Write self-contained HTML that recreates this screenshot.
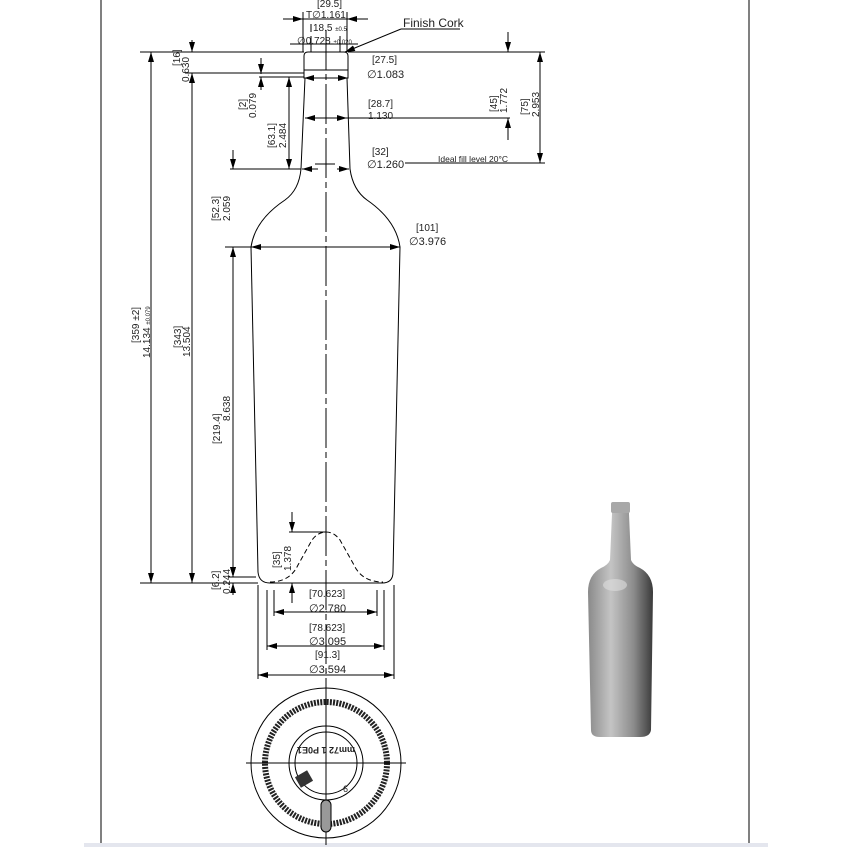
<!DOCTYPE html>
<html><head><meta charset="utf-8"><style>
html,body{margin:0;padding:0;background:#fff}
svg{display:block}
text{font-family:"Liberation Sans",sans-serif;fill:#222}
</style></head><body>
<svg width="847" height="847" viewBox="0 0 847 847" xmlns="http://www.w3.org/2000/svg">
<defs>
<marker id="a" viewBox="0 0 10 6" refX="10" refY="3" markerWidth="10" markerHeight="6" orient="auto-start-reverse" markerUnits="userSpaceOnUse"><path d="M0,0L10,3L0,6z" fill="#000"/></marker>
<linearGradient id="g" x1="0" x2="1"><stop offset="0" stop-color="#8a8a8a"/><stop offset="0.35" stop-color="#c4c4c4"/><stop offset="0.7" stop-color="#8c8c8c"/><stop offset="1" stop-color="#3a3a3a"/></linearGradient>
</defs>
<rect width="847" height="847" fill="#fff"/>
<line x1="101" y1="0" x2="101" y2="845" stroke="#000" stroke-width="1"/>
<line x1="749" y1="0" x2="749" y2="845" stroke="#000" stroke-width="1"/>
<rect x="84" y="843" width="684" height="4" fill="#e4e6ee"/>

<g stroke="#000" stroke-width="1" fill="none">
<line x1="326" y1="30" x2="326" y2="845" stroke-dasharray="40,4,6,4"/>
<path d="M304,56 Q304,52 308,52 L344,52 Q348,52 348,56 L348,78 L304,78 Z"/>
<line x1="304" y1="70" x2="348" y2="70"/>
<path d="M305,78 L301,169 Q299,190 285,200 Q255,220 251,247 L258,572 Q259,583 270,583 L382,583 Q393,583 393,572 L400,247 Q396,220 367,200 Q353,190 350,169 L347,78"/>
<path d="M270,582 Q290,582 298,565 L312,540 Q318,532 326,532 Q334,532 340,540 L354,565 Q362,582 383,582" stroke-dasharray="5,3"/>
<line x1="140" y1="52" x2="304" y2="52"/>
<line x1="348" y1="52" x2="545" y2="52"/>
<line x1="185" y1="73" x2="304" y2="73"/>
<line x1="230" y1="169" x2="301" y2="169"/>
<line x1="225" y1="247" x2="251" y2="247"/>
<line x1="140" y1="583" x2="258" y2="583"/>
<line x1="228" y1="577" x2="256" y2="577"/>
<line x1="151" y1="52" x2="151" y2="583" marker-start="url(#a)" marker-end="url(#a)"/>
<line x1="192" y1="73" x2="192" y2="583" marker-start="url(#a)" marker-end="url(#a)"/>
<line x1="192" y1="40" x2="192" y2="52" marker-end="url(#a)"/>
<line x1="233" y1="247" x2="233" y2="577" marker-start="url(#a)" marker-end="url(#a)"/>
<line x1="233" y1="150" x2="233" y2="169" marker-end="url(#a)"/>
<line x1="233" y1="560" x2="233" y2="577" marker-end="url(#a)"/>
<line x1="233" y1="595" x2="233" y2="583" marker-end="url(#a)"/>
<line x1="261" y1="58" x2="261" y2="74" marker-end="url(#a)"/>
<line x1="261" y1="90" x2="261" y2="77" marker-end="url(#a)"/>
<line x1="289" y1="77" x2="289" y2="169" marker-start="url(#a)" marker-end="url(#a)"/>
<line x1="259" y1="77" x2="304" y2="77"/>
<line x1="305" y1="118" x2="510" y2="118"/>
<line x1="508" y1="32" x2="508" y2="52" marker-end="url(#a)"/>
<line x1="508" y1="140" x2="508" y2="118" marker-end="url(#a)"/>
<line x1="540" y1="52" x2="540" y2="163" marker-start="url(#a)" marker-end="url(#a)"/>
<line x1="405" y1="163" x2="545" y2="163"/>
<line x1="315" y1="164" x2="335" y2="164"/>
<line x1="304" y1="78" x2="325" y2="78" marker-start="url(#a)"/>
<line x1="327" y1="78" x2="348" y2="78" marker-end="url(#a)"/>
<line x1="305" y1="118" x2="322" y2="118" marker-start="url(#a)"/>
<line x1="330" y1="118" x2="347" y2="118" marker-end="url(#a)"/>
<line x1="302" y1="169" x2="318" y2="169" marker-start="url(#a)"/>
<line x1="337" y1="169" x2="349" y2="169" marker-end="url(#a)"/>
<line x1="251" y1="247" x2="400" y2="247" marker-start="url(#a)" marker-end="url(#a)"/>
<line x1="303" y1="12" x2="303" y2="52"/>
<line x1="347" y1="12" x2="347" y2="52"/>
<line x1="283" y1="19" x2="303" y2="19" marker-end="url(#a)"/>
<line x1="368" y1="19" x2="347" y2="19" marker-end="url(#a)"/>
<line x1="303" y1="19" x2="347" y2="19"/>
<line x1="290" y1="44" x2="358" y2="44"/>
<line x1="311" y1="36" x2="311" y2="52"/>
<line x1="340" y1="36" x2="340" y2="52"/>
<path d="M311,24 L311,32 M347,24 L347,32"/>
<line x1="401" y1="29" x2="345" y2="52" marker-end="url(#a)"/>
<line x1="401" y1="29" x2="460" y2="29"/>
<line x1="274" y1="590" x2="274" y2="616"/>
<line x1="377" y1="590" x2="377" y2="616"/>
<line x1="267" y1="590" x2="267" y2="650"/>
<line x1="384" y1="590" x2="384" y2="650"/>
<line x1="258" y1="585" x2="258" y2="679"/>
<line x1="394" y1="585" x2="394" y2="679"/>
<line x1="274" y1="612" x2="377" y2="612" marker-start="url(#a)" marker-end="url(#a)"/>
<line x1="267" y1="646" x2="384" y2="646" marker-start="url(#a)" marker-end="url(#a)"/>
<line x1="258" y1="675" x2="394" y2="675" marker-start="url(#a)" marker-end="url(#a)"/>
<line x1="292" y1="512" x2="292" y2="532" marker-end="url(#a)"/>
<line x1="292" y1="603" x2="292" y2="583" marker-end="url(#a)"/>
<line x1="289" y1="532" x2="326" y2="532"/>
<circle cx="326" cy="763" r="75"/>
<circle cx="326" cy="763" r="61" stroke="#222" stroke-width="6" stroke-dasharray="2,1.2"/>
<circle cx="326" cy="763" r="37"/>
<circle cx="326" cy="763" r="31"/>
<line x1="246" y1="763" x2="406" y2="763"/>
<line x1="326" y1="688" x2="326" y2="840"/>
</g>
<rect x="321" y="800" width="10" height="32" rx="5" fill="#999" stroke="#000"/>
<rect x="297" y="773" width="14" height="12" fill="#333" transform="rotate(-30 304 779)"/>
<text x="326" y="747" font-size="9" text-anchor="middle" transform="rotate(180 326 747)" font-weight="bold">mm72 1 P0E1</text>
<text x="343" y="792" font-size="9">6</text>

<g font-size="10">
<text x="317" y="7">[29.5]</text>
<text x="306" y="18">T∅1.161</text>
<text x="313" y="31">18.5 <tspan font-size="6">±0.5</tspan></text>
<text x="297" y="44">∅0.728 <tspan font-size="6">±0.020</tspan></text>
<text x="403" y="27" font-size="12">Finish Cork</text>
<text x="372" y="63">[27.5]</text>
<text x="367" y="78" font-size="11">∅1.083</text>
<text x="368" y="107">[28.7]</text>
<text x="368" y="119">1.130</text>
<text x="372" y="155">[32]</text>
<text x="367" y="168" font-size="11">∅1.260</text>
<text x="438" y="162" font-size="8.5">Ideal  fill  level  20°C</text>
<text x="416" y="231">[101]</text>
<text x="409" y="245" font-size="11">∅3.976</text>
<text x="309" y="597">[70.623]</text>
<text x="309" y="612" font-size="11">∅2.780</text>
<text x="309" y="631">[78.623]</text>
<text x="309" y="645" font-size="11">∅3.095</text>
<text x="315" y="658">[91.3]</text>
<text x="309" y="673" font-size="11">∅3.594</text>
</g>
<g font-size="10">
<text transform="translate(180,66) rotate(-90)">[16]</text>
<text transform="translate(189,82) rotate(-90)">0.630</text>
<text transform="translate(246,110) rotate(-90)">[2]</text>
<text transform="translate(256,118) rotate(-90)">0.079</text>
<text transform="translate(275,148) rotate(-90)">[63.1]</text>
<text transform="translate(286,148) rotate(-90)">2.484</text>
<text transform="translate(219,221) rotate(-90)">[52.3]</text>
<text transform="translate(230,221) rotate(-90)">2.059</text>
<text transform="translate(139,343) rotate(-90)">[359 ±2]</text>
<text transform="translate(150,358) rotate(-90)">14.134 <tspan font-size="6">±0.079</tspan></text>
<text transform="translate(181,348) rotate(-90)">[343]</text>
<text transform="translate(190,357) rotate(-90)">13.504</text>
<text transform="translate(220,444) rotate(-90)">[219.4]</text>
<text transform="translate(230,421) rotate(-90)">8.638</text>
<text transform="translate(219,590) rotate(-90)">[6.2]</text>
<text transform="translate(230,594) rotate(-90)">0.244</text>
<text transform="translate(280,568) rotate(-90)">[35]</text>
<text transform="translate(291,571) rotate(-90)">1.378</text>
<text transform="translate(497,112) rotate(-90)">[45]</text>
<text transform="translate(507,113) rotate(-90)">1.772</text>
<text transform="translate(528,115) rotate(-90)">[75]</text>
<text transform="translate(539,117) rotate(-90)">2.953</text>
</g>

<path d="M612,503 L629,503 L629,514 L631,560 Q633,565 640,568 Q653,575 653,592 L651,730 Q650,737 640,737 L600,737 Q591,737 591,730 L588,592 Q588,575 601,568 Q608,565 610,560 L612,514 Z" fill="url(#g)"/>
<rect x="611" y="502" width="19" height="11" rx="2" fill="#a8a8a8"/>
<ellipse cx="615" cy="585" rx="12" ry="6" fill="#ddd" opacity="0.6"/>
</svg>
</body></html>
